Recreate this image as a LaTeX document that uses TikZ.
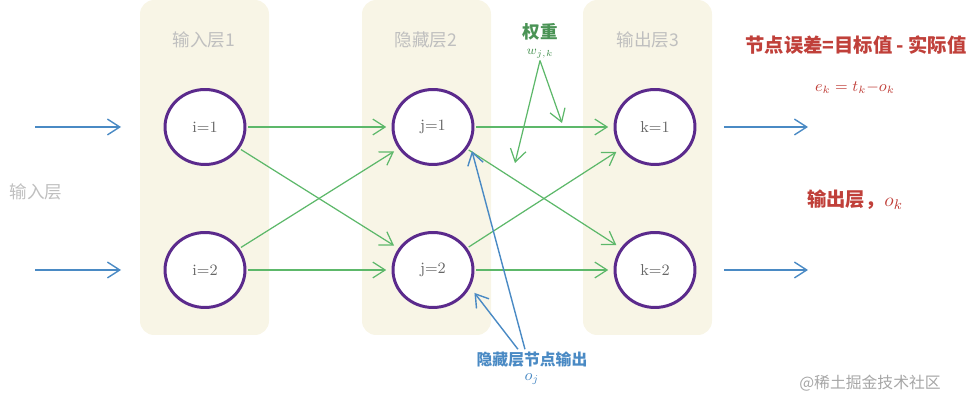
\documentclass[tikz,border=0pt]{standalone}
\usepackage{fontspec}
\usepackage{amsmath}
\usetikzlibrary{shapes.geometric,arrows.meta}
\newfontfamily\cjk{Noto Sans CJK SC}
\definecolor{panelbg}{HTML}{F8F5E6}
\definecolor{ringcol}{HTML}{5B2A8C}
\definecolor{wgreen}{HTML}{5DB86A}
\definecolor{inblue}{HTML}{4A8AC4}
\definecolor{errred}{HTML}{C0403A}
\tikzset{
  neuron/.style={ellipse, draw=ringcol, line width=1.7pt, fill=white,
    minimum width=1.6cm, minimum height=1.5cm, font=\small, text=black!60},
  layertitle/.style={font=\cjk\normalsize, text=black!25},
  weightarrow/.style={-{Straight Barb[length=7pt,width=9pt]}, wgreen, line width=0.7pt},
  flowarrow/.style={-{Straight Barb[length=7pt,width=9pt]}, inblue, line width=0.8pt},
  errtext/.style={font=\cjk\fontsize{11}{13}\selectfont\bfseries, text=errred}
}
\begin{document}
\begin{tikzpicture}[x=0.02cm, y=-0.02cm]
    \useasboundingbox (0,0) rectangle (968,401);

    % Draw the three layer panels
    \foreach \xl in {140, 362, 583}
      \fill[panelbg, rounded corners=8pt] (\xl,0) rectangle (\xl+129,335);

    \node[layertitle] (title1) at (204,40) {输入层1};
    \node[layertitle] (title2) at (426,40) {隐藏层2};
    \node[layertitle] (title3) at (648,40) {输出层3};
    \node[layertitle] (inlabel) at (36,192) {输入层};

    % Neurons
    \node[neuron] (i1) at (205,127) {i=1};
    \node[neuron] (i2) at (205,270) {i=2};
    \node[neuron] (j1) at (433,127) {j=1};
    \node[neuron] (j2) at (433,270) {j=2};
    \node[neuron] (k1) at (655,127) {k=1};
    \node[neuron] (k2) at (655,270) {k=2};

    % Inputs and outputs
    \coordinate (in1) at (35,127);
    \coordinate (in2) at (35,270);
    \coordinate (out1) at (808,127);
    \coordinate (out2) at (808,270);
    \draw[flowarrow, shorten >=0.85cm] (in1) -- (i1.west);
    \draw[flowarrow, shorten >=0.85cm] (in2) -- (i2.west);
    \draw[flowarrow, shorten <=0.55cm] (k1.east) -- (out1);
    \draw[flowarrow, shorten <=0.55cm] (k2.east) -- (out2);

    % Weighted connections
    \foreach \a/\b in {i1/j1, i1/j2, i2/j1, i2/j2, j1/k1, j1/k2, j2/k1, j2/k2}
      \draw[weightarrow, shorten <=1pt, shorten >=3pt] (\a) -- (\b);

    % Weight label
    \node[font=\cjk\normalsize\bfseries, text=wgreen!80!black] (wtitle) at (540,32) {权重};
    \node[font=\scriptsize, text=wgreen!80!black, inner sep=1pt] (wjk) at (540,54) {$w_{j,k}$};
    \coordinate (wa) at (515,163);
    \coordinate (wb) at (562,123);
    \draw[weightarrow] (wjk.south) -- (wa);
    \draw[weightarrow] (wjk.south) -- (wb);

    % Hidden node output
    \node[font=\cjk\small\bfseries, text=inblue, align=center, inner sep=1pt] (oj) at (532,368)
      {隐藏层节点输出\\[-2pt]{\normalfont\small$o_j$}};
    \draw[flowarrow, shorten >=4pt] ([xshift=-4pt]oj.north) -- (j1.-25);
    \draw[flowarrow, shorten >=4pt] ([xshift=-8pt]oj.north) -- (j2.-25);

    % Error text
    \node[errtext] (errdef) at (856,45) {节点误差=目标值 - 实际值};
    \node[font=\small, text=errred] (errform) at (855,88) {$e_k = t_k{-}o_k$};
    \node[errtext] (outk) at (855,200) {输出层，{\normalfont$o_k$}};

    \node[font=\cjk\small, text=black!35] (mark) at (870,383) {@稀土掘金技术社区};
\end{tikzpicture}
\end{document}
